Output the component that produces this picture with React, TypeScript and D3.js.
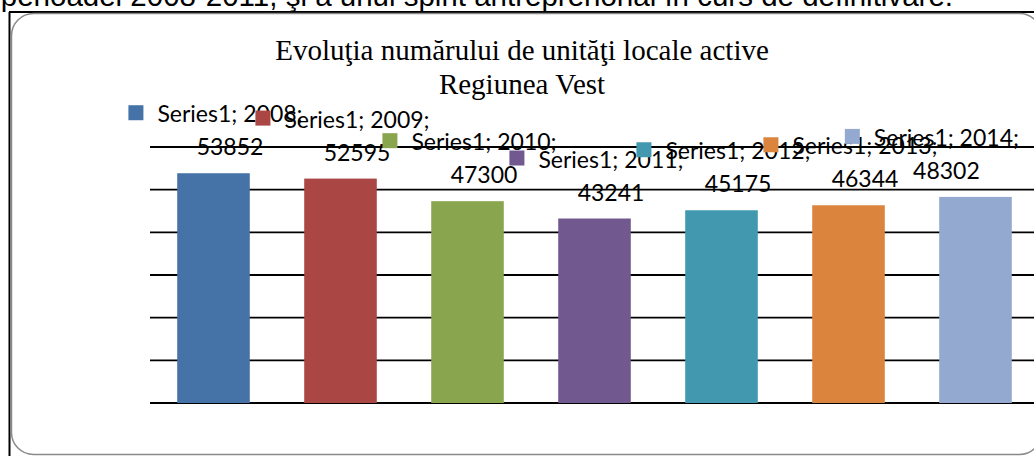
import React, { useEffect, useRef } from "react";
import * as d3 from "d3";

const years = ["2008", "2009", "2010", "2011", "2012", "2013", "2014"];
const values = [53852, 52595, 47300, 43241, 45175, 46344, 48302];
const colors = ["#4572A7", "#AA4643", "#89A54E", "#71588F", "#4198AF", "#DB843D", "#93A9CF"];
const seriesName = "Series1";
const yTicks = [0, 10000, 20000, 30000, 40000, 50000, 60000];
const titleLines = ["Evoluţia numărului de unităţi locale active", "Regiunea Vest"];
const docText = "perioadei 2008-2011, şi a unui spirit antreprenorial în curs de definitivare.";

const W = 1034;
const H = 456;

export default function App() {
  const ref = useRef<SVGSVGElement | null>(null);

  useEffect(() => {
    const svg = d3.select(ref.current);
    svg.selectAll("*").remove();

    svg.append("rect").attr("width", W).attr("height", H).attr("fill", "#fff");

    // document text (cut off at top)
    svg
      .append("text")
      .attr("x", 953)
      .attr("y", 6)
      .attr("text-anchor", "end")
      .attr("font-family", "Liberation Sans, Arial, sans-serif")
      .attr("font-size", 29.5)
      .attr("fill", "#000")
      .text(docText);

    // document frame
    svg.append("line").attr("x1", 9).attr("x2", W).attr("y1", 12).attr("y2", 12).attr("stroke", "#000").attr("stroke-width", 2);
    svg.append("line").attr("x1", 9.5).attr("x2", 9.5).attr("y1", 12).attr("y2", H).attr("stroke", "#000").attr("stroke-width", 2);

    // chart area rounded border
    svg
      .append("rect")
      .attr("x", 11.5)
      .attr("y", 13.5)
      .attr("width", 1030)
      .attr("height", 441)
      .attr("rx", 22)
      .attr("ry", 22)
      .attr("fill", "none")
      .attr("stroke", "#8a8a8a")
      .attr("stroke-width", 1.5);

    const x = d3.scaleBand<string>().domain(years).range([150, 1039]).paddingInner(0.4286).paddingOuter(0.2143);
    const y = d3.scaleLinear().domain([0, 60000]).range([403, 147]);

    // gridlines
    svg
      .append("g")
      .selectAll("line")
      .data(yTicks)
      .join("line")
      .attr("x1", 150)
      .attr("x2", W)
      .attr("y1", (d) => y(d))
      .attr("y2", (d) => y(d))
      .attr("stroke", "#000")
      .attr("stroke-width", 1.8);

    // bars
    svg
      .append("g")
      .selectAll("rect")
      .data(years)
      .join("rect")
      .attr("x", (d) => x(d)!)
      .attr("width", x.bandwidth())
      .attr("y", (d, i) => y(values[i]))
      .attr("height", (d, i) => y(0) - y(values[i]))
      .attr("fill", (d, i) => colors[i]);

    // title
    const title = svg
      .append("text")
      .attr("text-anchor", "middle")
      .attr("font-family", "Liberation Serif, Times New Roman, serif")
      .attr("font-size", 29)
      .attr("fill", "#000");
    titleLines.forEach((t, i) => {
      title.append("tspan").attr("x", 522).attr("y", 60 + i * 34).text(t);
    });

    // data labels with legend keys
    const labelFont = "Lato, Carlito, Calibri, sans-serif";
    const fs = 23;
    const keySize = 15;
    const keyGap = 14;
    const rightLimit = 1019;
    const lg = svg.append("g");
    years.forEach((yr, i) => {
      const xc = x(yr)! + x.bandwidth() / 2;
      const valBase = y(values[i]) - 18;
      const line1Base = valBase - 33;
      const t1 = lg
        .append("text")
        .attr("font-family", labelFont)
        .attr("font-size", fs)
        .attr("fill", "#000")
        .attr("y", line1Base)
        .text(`${seriesName}; ${yr};`);
      const tw = (t1.node() as SVGTextElement).getComputedTextLength();
      const bw = keySize + keyGap + tw;
      let left = xc - bw / 2 + 2;
      if (left + bw > rightLimit) left = rightLimit - bw;
      const textStart = left + keySize + keyGap;
      t1.attr("x", textStart);
      lg.append("rect")
        .attr("x", left)
        .attr("y", line1Base - 17)
        .attr("width", keySize)
        .attr("height", keySize)
        .attr("fill", colors[i]);
      lg.append("text")
        .attr("font-family", labelFont)
        .attr("font-size", fs)
        .attr("fill", "#000")
        .attr("text-anchor", "middle")
        .attr("x", textStart + tw / 2)
        .attr("y", valBase)
        .text(String(values[i]));
    });
  }, []);

  return (
    <svg
      ref={ref}
      width={W}
      height={H}
      style={{ position: "absolute", left: 0, top: 0, display: "block" }}
    />
  );
}
